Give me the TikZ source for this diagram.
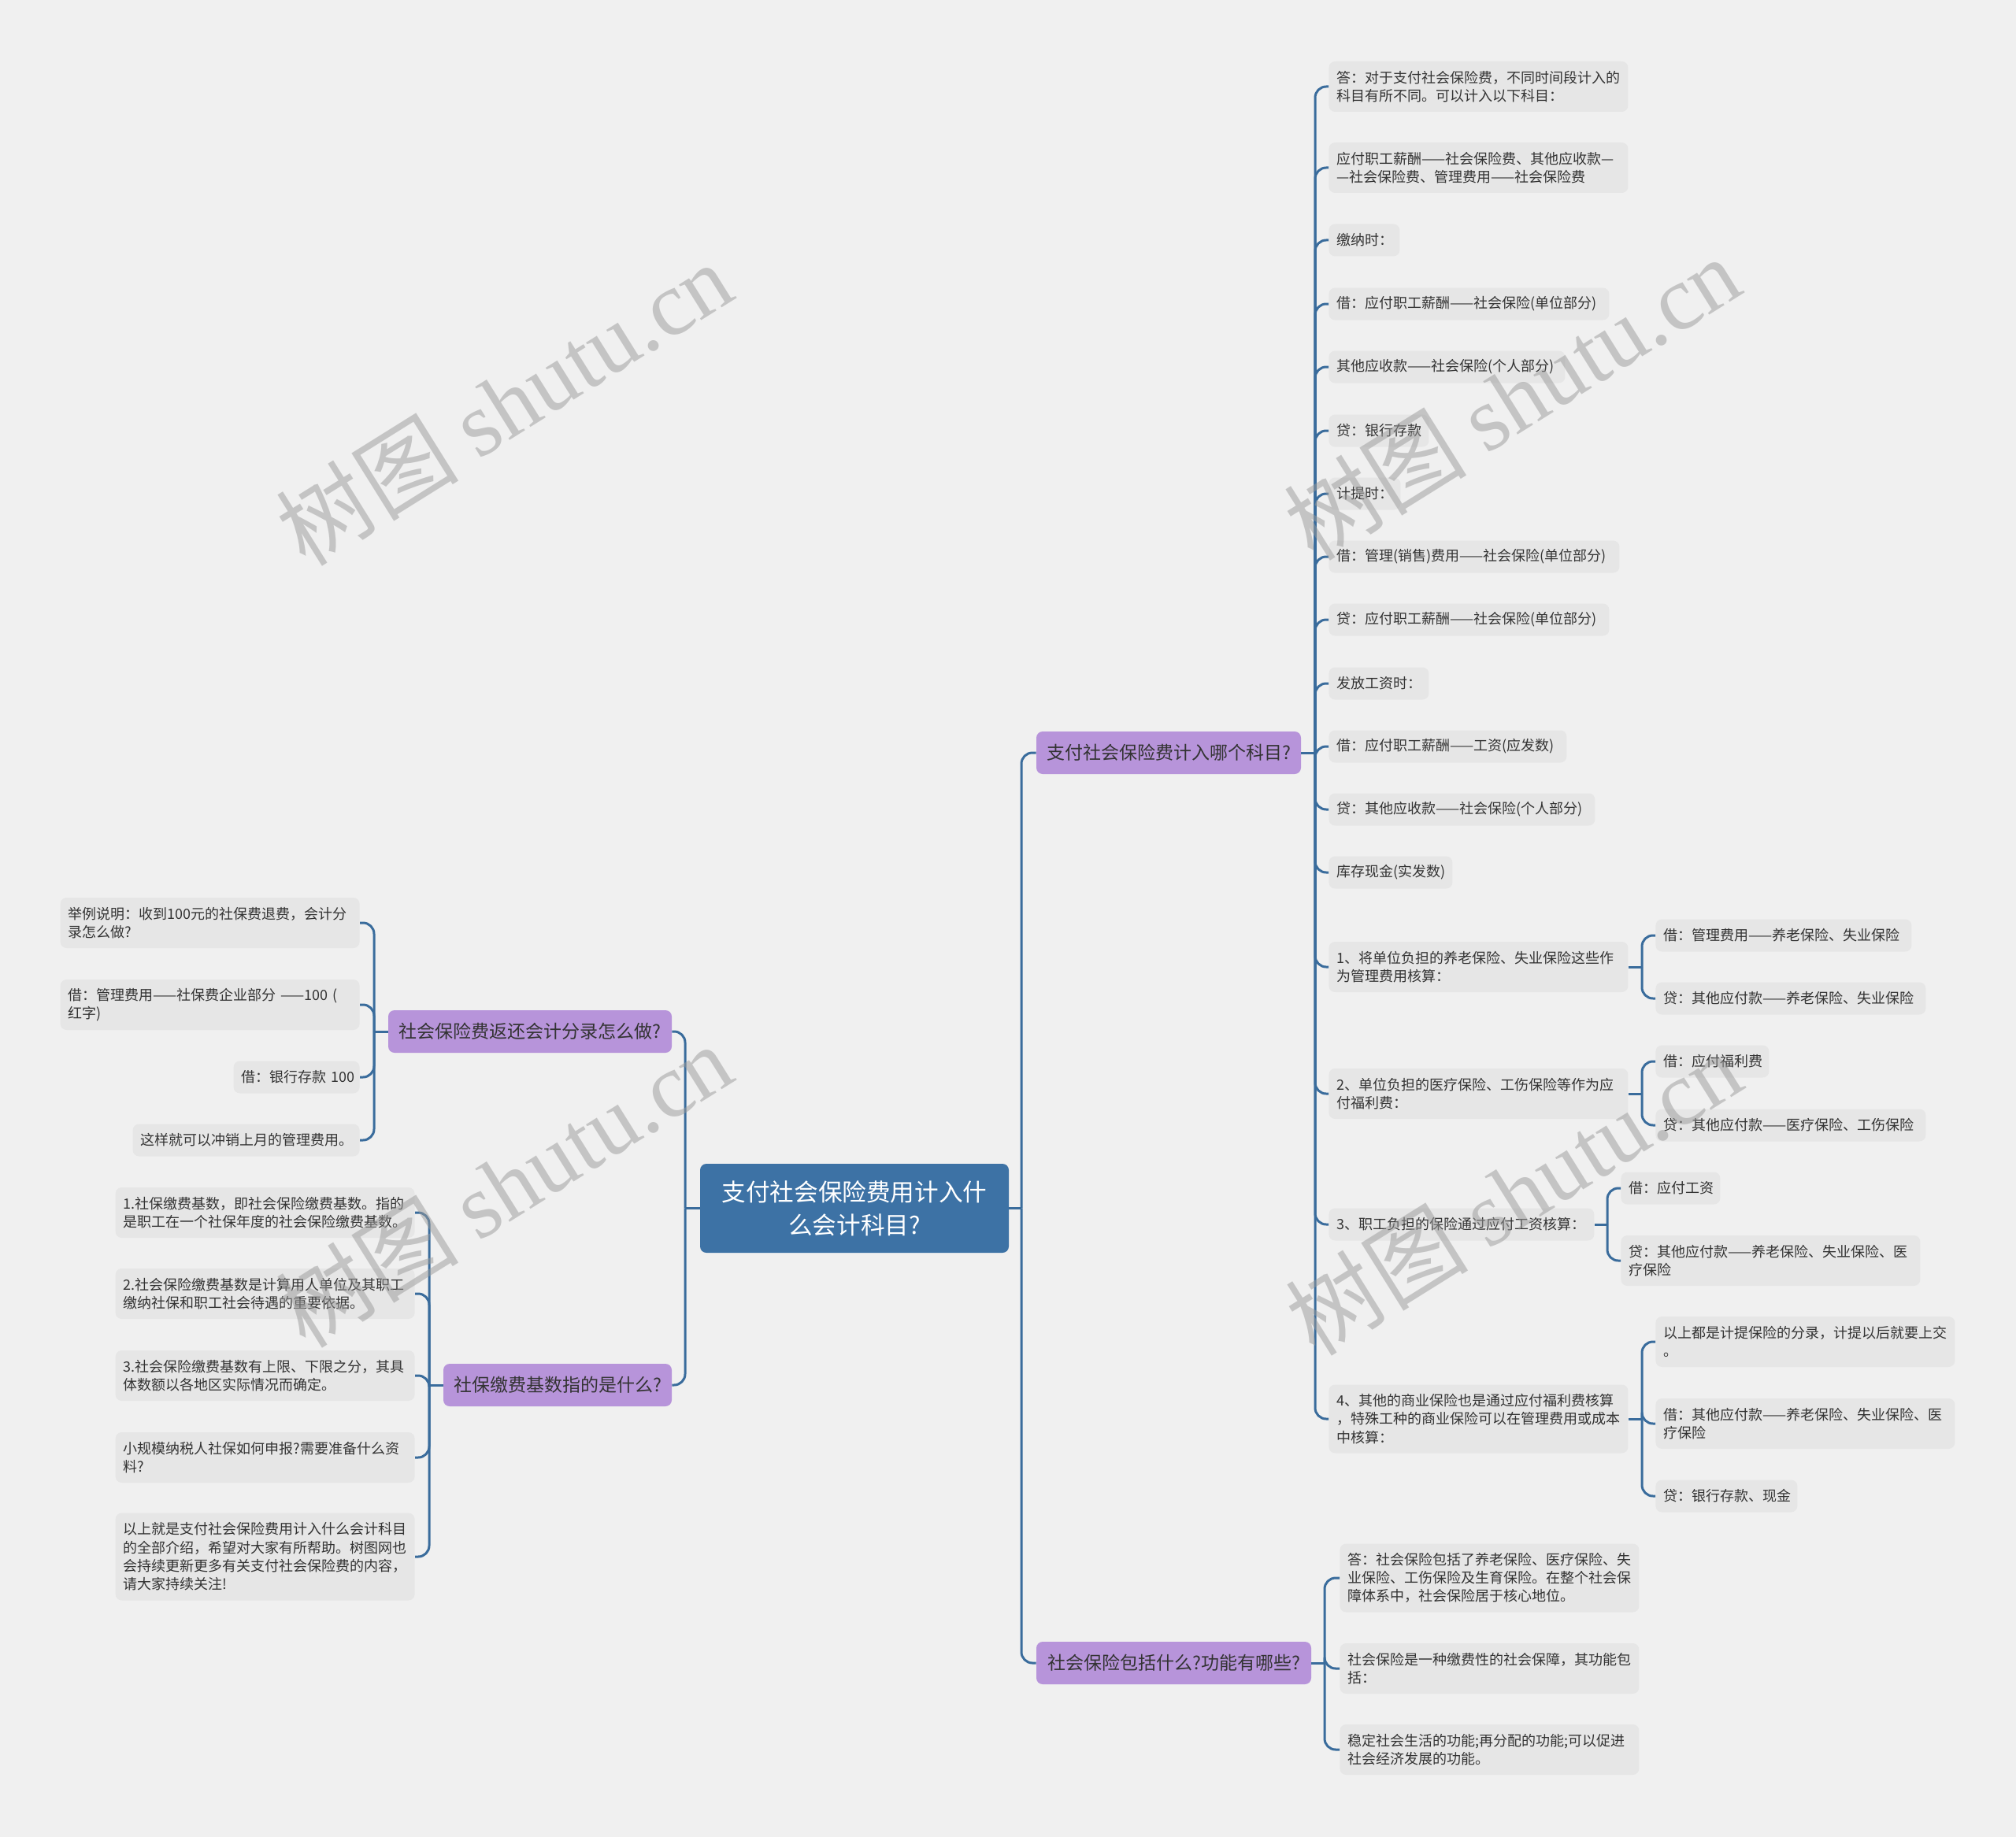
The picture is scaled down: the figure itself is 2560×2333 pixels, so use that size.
\documentclass[tikz,border=0pt]{standalone}
\usepackage{fontspec}
\setmainfont{Noto Sans CJK SC}
\newfontfamily\wmserif{Liberation Serif}
\usetikzlibrary{calc}
\definecolor{bgc}{HTML}{F0F0F0}
\definecolor{leafc}{HTML}{E6E6E6}
\definecolor{linec}{HTML}{3A6C9C}
\definecolor{rootc}{HTML}{3D72A5}
\definecolor{branchc}{HTML}{B794DA}
\definecolor{txtc}{HTML}{333333}
\definecolor{wmc}{HTML}{9A9A9A}
\tikzset{
  leaf/.style={fill=leafc, rounded corners=4pt, inner xsep=5pt, inner ysep=0pt, align=left,
    font=\fontsize{9pt}{11.65pt}\selectfont, text=txtc},
  one/.style={minimum height=20.5pt},
  two/.style={minimum height=32pt},
  three/.style={minimum height=43.5pt},
  four/.style={minimum height=55.5pt},
  branch/.style={fill=branchc, rounded corners=4pt, minimum height=27pt, inner sep=0pt,
    font=\fontsize{11.5pt}{14pt}\selectfont, text=txtc},
  rootbox/.style={fill=rootc, rounded corners=4pt, minimum width=196pt, minimum height=56.5pt,
    inner sep=0pt, align=center, font=\fontsize{15.3pt}{21pt}\selectfont, text=white},
  conn/.style={draw=linec, line width=1.5pt, rounded corners=7pt},
  stub/.style={draw=linec, line width=1.5pt},
  wm/.style={text=wmc, text opacity=0.5, inner sep=0pt, font=\fontsize{58pt}{60pt}\selectfont}
}
\begin{document}
\begin{tikzpicture}[x=0.5pt,y=-0.5pt]
\fill[bgc] (0,0) rectangle (2560,2333);
\useasboundingbox (0,0) rectangle (2560,2333);

% trunk coordinates
\coordinate (tR) at (1297,0);
\coordinate (tL) at (870,0);
\coordinate (t1) at (1670,0);
\coordinate (t2) at (1682,0);
\coordinate (t3) at (475,0);
\coordinate (t4) at (545,0);
\coordinate (s14) at (2085,0);
\coordinate (s15) at (2085,0);
\coordinate (s16) at (2041,0);
\coordinate (s17) at (2085,0);

% root and branches
\node[rootbox] (root) at (1085,1534.5) {支付社会保险费用计入什\\么会计科目?};
\node[branch, minimum width=168pt] (b1) at (1484,956) {支付社会保险费计入哪个科目?};
\node[branch, minimum width=174.5pt] (b2) at (1490.5,2112) {社会保险包括什么?功能有哪些?};
\node[branch, minimum width=180pt] (b3) at (673,1310) {社会保险费返还会计分录怎么做?};
\node[branch, minimum width=145pt] (b4) at (708,1759) {社保缴费基数指的是什么?};

% B1 leaves
\node[leaf, two, text width=180pt, anchor=west] (a1) at (1687,110) {答：对于支付社会保险费，不同时间段计入的\\科目有所不同。可以计入以下科目：};
\node[leaf, two, text width=180pt, anchor=west] (a2) at (1687,213) {应付职工薪酬——社会保险费、其他应收款—\\—社会保险费、管理费用——社会保险费};
\node[leaf, one, text width=35pt, anchor=west] (a3) at (1687,305) {\mbox{缴纳时：}};
\node[leaf, one, text width=168pt, anchor=west] (a4) at (1687,386) {\mbox{借：应付职工薪酬——社会保险(单位部分)}};
\node[leaf, one, text width=140pt, anchor=west] (a5) at (1687,466) {\mbox{其他应收款——社会保险(个人部分)}};
\node[leaf, one, text width=53.5pt, anchor=west] (a6) at (1687,547) {\mbox{贷：银行存款}};
\node[leaf, one, text width=35.5pt, anchor=west] (a7) at (1687,627) {\mbox{计提时：}};
\node[leaf, one, text width=174.5pt, anchor=west] (a8) at (1687,707) {\mbox{借：管理(销售)费用——社会保险(单位部分)}};
\node[leaf, one, text width=168pt, anchor=west] (a9) at (1687,787) {\mbox{贷：应付职工薪酬——社会保险(单位部分)}};
\node[leaf, one, text width=53.5pt, anchor=west] (a10) at (1687,868) {\mbox{发放工资时：}};
\node[leaf, one, text width=141pt, anchor=west] (a11) at (1687,948) {\mbox{借：应付职工薪酬——工资(应发数)}};
\node[leaf, one, text width=159pt, anchor=west] (a12) at (1687,1028) {\mbox{贷：其他应收款——社会保险(个人部分)}};
\node[leaf, one, text width=68.5pt, anchor=west] (a13) at (1687,1108) {\mbox{库存现金(实发数)}};
\node[leaf, two, text width=180pt, anchor=west] (a14) at (1687,1228) {1、将单位负担的养老保险、失业保险这些作\\为管理费用核算：};
\node[leaf, one, text width=152.5pt, anchor=west] (a14a) at (2102,1188) {\mbox{借：管理费用——养老保险、失业保险}};
\node[leaf, one, text width=161.5pt, anchor=west] (a14b) at (2102,1268) {\mbox{贷：其他应付款——养老保险、失业保险}};
\node[leaf, two, text width=180pt, anchor=west] (a15) at (1687,1389) {2、单位负担的医疗保险、工伤保险等作为应\\付福利费：};
\node[leaf, one, text width=62pt, anchor=west] (a15a) at (2102,1348) {\mbox{借：应付福利费}};
\node[leaf, one, text width=161.5pt, anchor=west] (a15b) at (2102,1429) {\mbox{贷：其他应付款——医疗保险、工伤保险}};
\node[leaf, one, text width=158.5pt, anchor=west] (a16) at (1687,1555) {\mbox{3、职工负担的保险通过应付工资核算：}};
\node[leaf, one, text width=53pt, anchor=west] (a16a) at (2058,1509) {\mbox{借：应付工资}};
\node[leaf, two, text width=180pt, anchor=west] (a16b) at (2058,1601) {贷：其他应付款——养老保险、失业保险、医\\疗保险};
\node[leaf, three, text width=180pt, anchor=west] (a17) at (1687,1802) {4、其他的商业保险也是通过应付福利费核算\\，特殊工种的商业保险可以在管理费用或成本\\中核算：};
\node[leaf, two, text width=180pt, anchor=west] (a17a) at (2102,1704) {以上都是计提保险的分录，计提以后就要上交\\。};
\node[leaf, two, text width=180pt, anchor=west] (a17b) at (2102,1808) {借：其他应付款——养老保险、失业保险、医\\疗保险};
\node[leaf, one, text width=80pt, anchor=west] (a17c) at (2102,1900) {\mbox{贷：银行存款、现金}};

% B2 leaves
\node[leaf, three, text width=180pt, anchor=west] (c1) at (1701,2004) {答：社会保险包括了养老保险、医疗保险、失\\业保险、工伤保险及生育保险。在整个社会保\\障体系中，社会保险居于核心地位。};
\node[leaf, two, text width=180pt, anchor=west] (c2) at (1701,2119) {社会保险是一种缴费性的社会保障，其功能包\\括：};
\node[leaf, two, text width=180pt, anchor=west] (c3) at (1701,2222) {稳定社会生活的功能;再分配的功能;可以促进\\社会经济发展的功能。};

% B3 leaves
\node[leaf, two, text width=180pt, anchor=east] (d1) at (457,1172) {举例说明：收到100元的社保费退费，会计分\\录怎么做?};
\node[leaf, two, text width=180pt, anchor=east] (d2) at (457,1276) {借：管理费用——社保费企业部分~——100~(\\红字)};
\node[leaf, one, text width=70pt, anchor=east] (d3) at (457,1368) {\mbox{借：银行存款~100}};
\node[leaf, one, text width=134pt, anchor=east] (d4) at (457,1448) {\mbox{这样就可以冲销上月的管理费用。}};

% B4 leaves
\node[leaf, two, text width=180pt, anchor=east] (e1) at (527,1540) {1.社保缴费基数，即社会保险缴费基数。指的\\是职工在一个社保年度的社会保险缴费基数。};
\node[leaf, two, text width=180pt, anchor=east] (e2) at (527,1643) {2.社会保险缴费基数是计算用人单位及其职工\\缴纳社保和职工社会待遇的重要依据。};
\node[leaf, two, text width=180pt, anchor=east] (e3) at (527,1747) {3.社会保险缴费基数有上限、下限之分，其具\\体数额以各地区实际情况而确定。};
\node[leaf, two, text width=180pt, anchor=east] (e4) at (527,1851) {小规模纳税人社保如何申报?需要准备什么资\\料?};
\node[leaf, four, text width=180pt, anchor=east] (e5) at (527,1977) {以上就是支付社会保险费用计入什么会计科目\\的全部介绍，希望对大家有所帮助。树图网也\\会持续更新更多有关支付社会保险费的内容，\\请大家持续关注!};

% connectors: root
\draw[stub] (root.east) -- (root.east -| tR);
\draw[conn] (root.east -| tR) |- (b1.west);
\draw[conn] (root.east -| tR) |- (b2.west);
\draw[stub] (root.west) -- (root.west -| tL);
\draw[conn] (root.west -| tL) |- (b3.east);
\draw[conn] (root.west -| tL) |- (b4.east);

% B1
\draw[stub] (b1.east) -- (b1.east -| t1);
\foreach \n in {a1,a2,a3,a4,a5,a6,a7,a8,a9,a10,a11,a12,a13,a14,a15,a16,a17}
  \draw[conn] (b1.east -| t1) |- (\n.west);
% sub brackets
\draw[stub] (a14.east) -- (a14.east -| s14);
\draw[conn] (a14.east -| s14) |- (a14a.west);
\draw[conn] (a14.east -| s14) |- (a14b.west);
\draw[stub] (a15.east) -- (a15.east -| s15);
\draw[conn] (a15.east -| s15) |- (a15a.west);
\draw[conn] (a15.east -| s15) |- (a15b.west);
\draw[stub] (a16.east) -- (a16.east -| s16);
\draw[conn] (a16.east -| s16) |- (a16a.west);
\draw[conn] (a16.east -| s16) |- (a16b.west);
\draw[stub] (a17.east) -- (a17.east -| s17);
\draw[conn] (a17.east -| s17) |- (a17a.west);
\draw[conn] (a17.east -| s17) |- (a17b.west);
\draw[conn] (a17.east -| s17) |- (a17c.west);

% B2
\draw[stub] (b2.east) -- (b2.east -| t2);
\foreach \n in {c1,c2,c3}
  \draw[conn] (b2.east -| t2) |- (\n.west);

% B3
\draw[stub] (b3.west) -- (b3.west -| t3);
\foreach \n in {d1,d2,d3,d4}
  \draw[conn] (b3.west -| t3) |- (\n.east);

% B4
\draw[stub] (b4.west) -- (b4.west -| t4);
\foreach \n in {e1,e2,e3,e4,e5}
  \draw[conn] (b4.west -| t4) |- (\n.east);

% watermarks
\node[wm, rotate=32] (w1) at (640,512) {树图 {\wmserif shutu.cn}};
\node[wm, rotate=32] (w2) at (1920,505) {树图 {\wmserif shutu.cn}};
\node[wm, rotate=32] (w3) at (640,1505) {树图 {\wmserif shutu.cn}};
\node[wm, rotate=32] (w4) at (1922,1515) {树图 {\wmserif shutu.cn}};
\end{tikzpicture}
\end{document}
